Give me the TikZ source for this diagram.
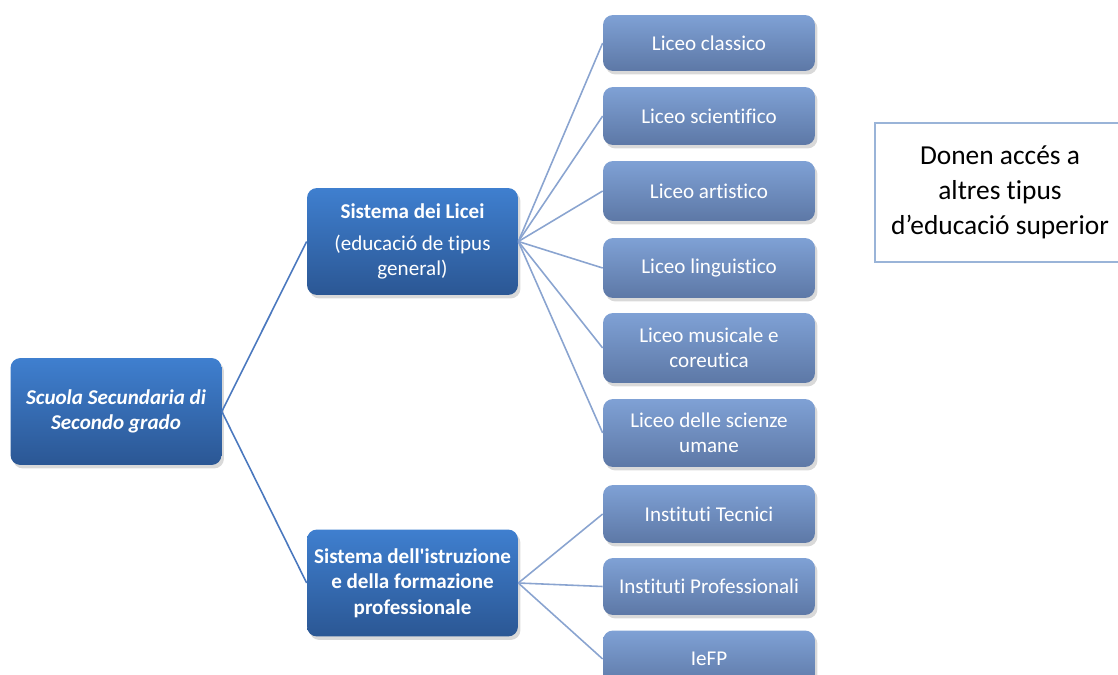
\documentclass[tikz,border=0pt]{standalone}
\usepackage{fontspec}
\setmainfont{Carlito}[Ligatures={TeXOff,NoCommon}]
\usepackage{tikz}
\usetikzlibrary{shadows}
\definecolor{darktop}{HTML}{3F7FCF}
\definecolor{darkbot}{HTML}{2B5794}
\definecolor{lighttop}{HTML}{7FA1D5}
\definecolor{lightbot}{HTML}{5D78A6}
\definecolor{linkdark}{HTML}{4A78BE}
\definecolor{linklight}{HTML}{8AA4D0}
\definecolor{noteline}{HTML}{9AB4D8}
\tikzstyle{boxstyle}=[rectangle,rounded corners=0.2cm,align=center,text=white,inner sep=2pt,font=\fontsize{12}{14.5}\selectfont,drop shadow={opacity=0.3,shadow xshift=0.05cm,shadow yshift=-0.07cm}]
\tikzstyle{mainstyle}=[boxstyle,minimum width=4.22cm,minimum height=2.14cm,shading=axis,top color=darktop,bottom color=darkbot]
\tikzstyle{leafstyle}=[boxstyle,minimum width=4.24cm,shading=axis,top color=lighttop,bottom color=lightbot]

\begin{document}
\begin{tikzpicture}[x=0.02cm,y=-0.02cm]
	\useasboundingbox (0,0) rectangle (1118,675);
	\clip (0,0) rectangle (1118,675);

	% first and second level
	\node[mainstyle] (scuola) at (116,411.5) {\bfseries\itshape Scuola Secundaria di\\\bfseries\itshape Secondo grado};
	\node[mainstyle] (licei) at (412.5,241.5) {\textbf{Sistema dei Licei}\\[3.5pt](educació de tipus\\general)};
	\node[mainstyle] (istruzione) at (412.5,583) {\bfseries Sistema dell'istruzione\\\bfseries e della formazione\\\bfseries professionale};

	% licei
	\node[leafstyle,minimum height=1.12cm] (classico) at (709,43) {Liceo classico};
	\node[leafstyle,minimum height=1.16cm] (scientifico) at (709,116) {Liceo scientifico};
	\node[leafstyle,minimum height=1.2cm] (artistico) at (709,191) {Liceo artistico};
	\node[leafstyle,minimum height=1.2cm] (linguistico) at (709,268) {Liceo linguistico};
	\node[leafstyle,minimum height=1.4cm] (musicale) at (709,348) {Liceo musicale e\\coreutica};
	\node[leafstyle,minimum height=1.36cm] (umane) at (709,433) {Liceo delle scienze\\umane};

	% istruzione e formazione
	\node[leafstyle,minimum height=1.16cm] (tecnici) at (709,514) {Instituti Tecnici};
	\node[leafstyle,minimum height=1.14cm] (professionali) at (709,586.5) {Instituti Professionali};
	\node[leafstyle,minimum height=1.14cm] (iefp) at (709,659) {IeFP};

	\node[draw=noteline,line width=0.8pt,rectangle,minimum width=5cm,minimum height=2.78cm,align=center,font=\fontsize{15.6}{19.8}\selectfont] (note) at (1000,192.5) {Donen accés a\\altres tipus\\d’educació superior};

\path[draw=linkdark,line width=0.9pt] (scuola.east) edge (licei.west)
			(scuola.east) edge (istruzione.west);
\path[draw=linklight,line width=0.9pt] (licei.east) edge (classico.west)
			(licei.east) edge (scientifico.west)
			(licei.east) edge (artistico.west)
			(licei.east) edge (linguistico.west)
			(licei.east) edge (musicale.west)
			(licei.east) edge (umane.west)
			(istruzione.east) edge (tecnici.west)
			(istruzione.east) edge (professionali.west)
			(istruzione.east) edge (iefp.west);
\end{tikzpicture}
\end{document}
